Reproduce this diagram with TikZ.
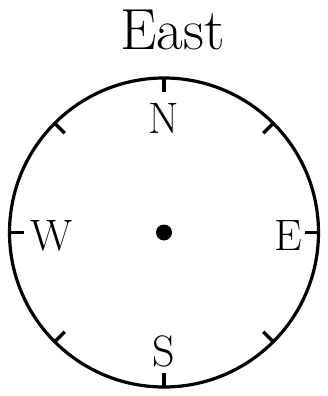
\documentclass[tikz,border=0pt]{standalone}
\usetikzlibrary{calc}
\begin{document}
\begin{tikzpicture}[x=1pt,y=-1pt,
  rim/.style={line width=3.2pt},
  tickmark/.style={line width=3.2pt},
  lbl/.style={font=\fontsize{44}{44}\selectfont, inner sep=0pt}]
\useasboundingbox (0,0) rectangle (327,396);
\coordinate (c) at (164,232.5);
\draw[rim] (c) circle[radius=154.5];
\foreach \a in {0,45,...,315}
  \draw[tickmark] ($(c)+(\a:154.5)$) -- ($(c)+(\a:140.5)$);
\fill (c) circle[radius=8];
\node[font=\fontsize{58}{58}\selectfont, inner sep=0pt, anchor=base] (title) at (172.5,50) {East};
\node[lbl, anchor=base] (n) at (164,133) {N};
\node[lbl, anchor=base] (s) at (164,366) {S};
\node[lbl, anchor=base] (w) at (52,250) {W};
\node[lbl, anchor=base] (e) at (288,250) {E};
\end{tikzpicture}
\end{document}
